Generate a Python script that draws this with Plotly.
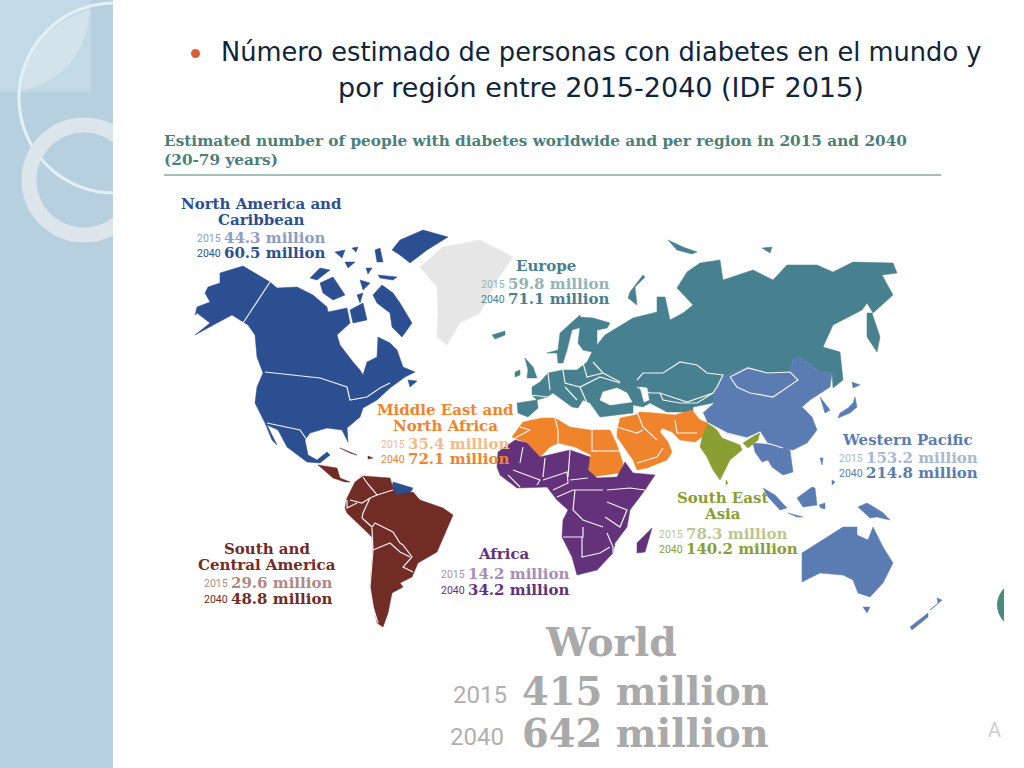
import plotly.graph_objects as go

# ---------- values ----------
REGION_NAMES = ["North America and<br>Caribbean", "Europe", "Middle East and<br>North Africa",
                "Western Pacific", "South East<br>Asia", "Africa", "South and<br>Central America"]
VALUES_2015 = [44.3, 59.8, 35.4, 153.2, 78.3, 14.2, 29.6]
VALUES_2040 = [60.5, 71.1, 72.1, 214.8, 140.2, 34.2, 48.8]
WORLD_2015 = 415
WORLD_2040 = 642

# ---------- colours ----------
COL_DARK = ["#2c4f92", "#47808f", "#f0842c", "#5b7cb2", "#8a9e32", "#64327a", "#722c26"]
COL_LIGHT = ["#8f9cc4", "#93b3ba", "#f6b98a", "#a9b8d3", "#bcc68f", "#a68eb5", "#ae8a85"]

# ---------- map outlines (x, y in picture pixels) ----------
NORTH_AMERICA = [
    [(195,315),(197,307),(210,302),(205,293),(208,287),(220,283),(220,273),(243,266),(270,282),(277,288),
     (297,287),(313,295),(327,307),(328,312),(347,308),(350,323),(337,335),(340,345),(353,362),(360,370),
     (363,375),(367,362),(377,357),(378,337),(390,343),(397,350),(403,367),(415,372),(405,377),(390,388),
     (377,400),(363,408),(360,417),(347,428),(348,442),(342,430),(327,428),(310,433),(305,440),(308,455),
     (317,460),(327,452),(330,455),(320,463),(307,462),(287,447),(278,430),(267,425),(277,445),(272,440),
     (265,423),(255,403),(257,387),(263,373),(257,357),(255,335),(248,325),(232,315),(217,323),(195,335),
     (210,323),(197,313)],
    [(373,295),(382,285),(393,293),(400,303),(412,323),(402,337),(392,327),(390,313),(377,303)],
    [(320,283),(333,277),(345,295),(333,300),(323,293)],
    [(310,278),(320,268),(330,270),(317,280)],
    [(392,250),(400,240),(423,230),(448,237),(427,250),(410,263),(400,255)],
    [(378,275),(397,277),(393,280),(380,278)],
    [(350,310),(363,303),(367,320),(353,323)],
    [(360,280),(370,283),(363,290)],
    [(357,295),(363,293),(360,303)],
    [(335,252),(345,250),(342,258)],
    [(345,262),(355,262),(348,268)],
    [(375,250),(380,248),(383,262),(377,262)],
    [(352,248),(358,247),(356,252)],
    [(366,268),(372,268),(368,274)],
    [(408,380),(417,381),(410,387)],
    [(393,482),(413,488),(410,493),(397,496),(392,488)],
]
GREENLAND = [[(420,267),(443,247),(480,240),(513,257),(497,280),(480,313),(460,323),(447,345),(437,337),(438,313),(437,287)]]
EUROPE = [
    [(532,387),(540,382),(548,373),(563,370),(577,370),(587,362),(592,352),(583,350),(578,343),(580,327),
     (580,317),(593,318),(610,323),(607,328),(597,330),(597,345),(605,335),(617,328),(633,318),(657,312),
     (657,297),(665,297),(670,320),(683,313),(693,305),(677,288),(687,272),(700,263),(720,260),(723,280),
     (753,270),(773,280),(787,265),(817,265),(833,272),(853,262),(893,263),(897,273),(882,275),(893,295),
     (873,313),(867,303),(862,310),(833,325),(823,347),(840,352),(843,380),(833,388),(832,373),(820,372),
     (800,357),(793,360),(790,372),(767,373),(748,367),(723,377),(713,393),(713,403),(693,407),(693,412),
     (667,412),(650,403),(643,407),(633,405),(633,413),(600,417),(595,410),(590,403),(583,400),(578,408),
     (572,407),(553,393),(547,397),(537,400),(532,395)],
    [(517,403),(537,400),(538,408),(528,417),(518,413)],
    [(547,353),(558,350),(560,333),(572,322),(580,315),(582,327),(572,330),(567,350),(563,363),(558,363),(557,353)],
    [(525,358),(533,367),(537,378),(527,378),(528,370)],
    [(515,372),(520,370),(520,375),(515,377)],
    [(492,335),(505,331),(505,335),(495,339)],
    [(867,313),(872,313),(880,337),(877,352),(867,337)],
    [(630,292),(643,275),(645,277),(635,287),(637,305),(628,298)],
    [(668,240),(683,247),(697,252),(692,254),(677,250)],
    [(762,248),(772,247),(770,253)],
]
WHITE_SEAS = [
    [(600,400),(603,392),(617,388),(627,393),(632,402),(610,405)],
    [(640,387),(647,388),(649,400),(644,402)],
]
MENA = [
    [(512,437),(523,422),(542,418),(555,418),(570,427),(590,430),(610,430),(617,445),(623,463),(620,473),
     (605,475),(590,477),(588,468),(591,455),(575,447),(558,443),(550,447),(540,457),(527,443)],
    [(617,432),(620,418),(635,415),(640,412),(655,413),(675,415),(692,410),(700,420),(708,423),(705,435),
     (695,442),(680,440),(672,432),(662,428),(660,432),(668,442),(672,452),(667,460),(647,468),(637,470),
     (633,460),(617,437)],
]
AFRICA = [
    [(497,467),(498,452),(515,440),(527,443),(540,457),(557,453),(570,450),(590,457),(588,470),(597,478),
     (617,477),(625,462),(633,473),(655,475),(645,490),(630,510),(627,527),(615,543),(613,553),(597,570),
     (577,575),(572,557),(562,537),(563,520),(568,510),(557,500),(547,487),(517,488),(500,475)],
    [(652,528),(645,552),(637,553),(637,543)],
]
SOUTH_AMERICA = [
    [(345,508),(347,498),(355,482),(363,476),(390,478),(393,488),(397,495),(413,492),(420,500),(443,508),
     (453,515),(445,533),(437,552),(418,563),(412,577),(400,583),(403,587),(392,593),(388,613),(383,627),
     (377,623),(370,587),(373,550),(372,537),(347,513)],
    [(318,465),(337,468),(340,478),(350,482),(345,482),(333,478)],
    [(340,448),(357,455),(350,453)],
    [(368,456),(373,458),(368,459)],
]
WESTERN_PACIFIC = [
    [(703,412),(713,403),(713,393),(723,377),(748,367),(767,373),(790,372),(793,360),(800,357),(820,372),
     (832,373),(830,387),(810,400),(802,407),(812,417),(817,430),(807,443),(793,450),(783,448),(767,443),
     (760,432),(747,438),(727,433),(708,423)],
    [(753,443),(775,445),(790,450),(793,472),(783,475),(772,467),(768,460),(762,462),(755,452)],
    [(820,397),(830,410),(825,413)],
    [(855,397),(857,407),(850,413),(838,418),(840,413),(848,408),(853,403)],
    [(852,382),(860,385),(853,388)],
    [(820,458),(823,458),(822,465)],
    [(832,480),(835,482),(832,485)],
    [(763,488),(775,495),(787,508),(780,510),(768,497)],
    [(788,513),(803,517),(797,517)],
    [(797,498),(812,487),(815,488),(817,505),(803,507)],
    [(819,505),(825,503),(825,509),(821,508)],
    [(858,507),(867,503),(882,512),(890,520),(877,517),(870,518)],
    [(802,553),(827,537),(843,527),(857,527),(857,535),(868,540),(873,527),(883,547),(893,563),(883,583),
     (870,597),(858,593),(853,580),(843,575),(820,573),(802,582)],
    [(863,607),(870,607),(867,613)],
    [(933,608),(942,600),(937,598),(938,603),(930,610)],
    [(910,627),(928,613),(928,617),(912,630)],
]
SOUTH_EAST_ASIA = [
    [(708,423),(717,430),(722,438),(740,445),(742,450),(730,460),(720,480),(713,470),(707,457),(700,447),(702,438)],
    [(743,443),(760,432),(758,440),(748,448)],
    [(726,480),(728,483),(726,485)],
]
BORDERS = [
    [(270,282),(243,323)],
    [(265,372),(320,378),(347,387),(350,400),(367,397),(380,388),(390,383)],
    [(267,423),(287,427),(300,430),(307,440)],
    [(520,463),(523,447)], [(545,458),(543,477)], [(570,450),(568,477)],
    [(543,480),(567,472),(568,483),(553,490)], [(570,480),(588,478)],
    [(557,497),(573,490),(603,490)], [(575,490),(573,510),(583,520),(603,527)],
    [(607,502),(627,510),(620,527),(605,517)], [(607,490),(630,488),(645,490)],
    [(563,537),(583,537),(583,527)], [(582,537),(582,557),(600,553),(610,547)],
    [(607,533),(613,547),(613,553)], [(513,470),(527,475),(540,480),(537,485)], [(508,475),(520,487)],
    [(520,427),(530,430),(515,438)], [(555,418),(558,430),(558,443)], [(592,430),(592,452)], [(592,451),(620,451)],
    [(617,427),(637,433),(643,430)], [(637,412),(643,427),(657,440)], [(675,420),(677,433),(697,433)],
    [(637,463),(657,457),(663,448)],
    [(548,373),(550,390)], [(563,370),(565,383),(580,387),(600,377),(620,383)],
    [(583,363),(587,377),(603,373)], [(565,387),(577,400)], [(580,387),(587,403)],
    [(593,362),(603,373),(620,382)], [(530,395),(548,397)],
    [(637,380),(643,373),(663,373),(680,362),(697,365),(707,373),(723,375),(717,387),(713,393),(687,402),(660,393),(650,393),(637,387)],
    [(660,393),(663,400),(680,403),(697,403),(713,393)],
    [(730,377),(748,368),(767,373),(790,372),(798,380),(773,397),(750,393),(737,387),(730,377)],
    [(703,412),(713,403)], [(708,423),(727,433),(747,438),(760,432),(767,443),(783,448)],
    [(363,477),(367,483),(373,490),(377,495),(370,498),(362,503),(350,500)], [(377,495),(393,490)],
    [(370,498),(363,513),(362,518),(372,527),(375,523),(393,532),(400,543),(403,545),(412,557),(403,567),(413,572)],
    [(372,528),(373,550),(370,587),(373,607),(378,623)], [(373,550),(390,543),(400,552),(410,557)],
    [(347,500),(347,508),(357,503)],
]

# ---------- text placement in picture pixels ----------
NAME_X = [261, 546, 445, 907, 722, 504, 267]
NAME_Y = [204, 266, 410, 440, 498, 554, 549]
NAME_LINE_GAP = 15.5
ROW_X = [224, 508, 408, 866, 686, 468, 231]
ROW_Y_2015 = [238, 284, 444, 458, 534, 574, 583]
ROW_Y_2040 = [253, 299, 459, 473, 549, 590, 599]
SERIF = "DejaVu Serif"
THIN = "Roboto"


def flat(polys):
    xs, ys = [], []
    for poly in polys:
        xs += [p[0] for p in poly] + [poly[0][0], None]
        ys += [p[1] for p in poly] + [poly[0][1], None]
    return xs, ys


def flat_open(lines):
    xs, ys = [], []
    for line in lines:
        xs += [p[0] for p in line] + [None]
        ys += [p[1] for p in line] + [None]
    return xs, ys


fig = go.Figure()
layers = [("North America", NORTH_AMERICA, COL_DARK[0]), ("Greenland", GREENLAND, "#e6e6e6"),
          ("Europe", EUROPE, COL_DARK[1]), ("Seas", WHITE_SEAS, "#ffffff"), ("MENA", MENA, COL_DARK[2]),
          ("Africa", AFRICA, COL_DARK[5]), ("South America", SOUTH_AMERICA, COL_DARK[6]),
          ("Western Pacific", WESTERN_PACIFIC, COL_DARK[3]), ("South East Asia", SOUTH_EAST_ASIA, COL_DARK[4])]
for name, polys, col in layers:
    xs, ys = flat(polys)
    fig.add_trace(go.Scatter(x=xs, y=ys, mode="lines", fill="toself", fillcolor=col,
                             line=dict(color=col, width=0.5), name=name, hoverinfo="skip"))
bx, by = flat_open(BORDERS)
fig.add_trace(go.Scatter(x=bx, y=by, mode="lines", line=dict(color="#f4f1f4", width=1.2),
                         name="Borders", hoverinfo="skip"))

ann = []


def txt(x, y, s, size, col, fam=SERIF, anchor="center"):
    shift = {"left": -2, "right": 2, "center": 0}[anchor]
    ann.append(dict(x=x, y=y, xref="x", yref="y", text=s, showarrow=False, xanchor=anchor, yanchor="middle",
                    xshift=shift, font=dict(size=size, color=col, family=fam), align="center"))


txt(221, 52, "Número estimado de personas con diabetes en el mundo y", 25.7, "#10243a", "DejaVu Sans", "left")
txt(601, 87, "por región entre 2015-2040 (IDF 2015)", 27, "#10243a", "DejaVu Sans")
txt(164, 141, "<b>Estimated number of people with diabetes worldwide and per region in 2015 and 2040</b>",
    15.3, "#4c7f7a", SERIF, "left")
txt(164, 160, "<b>(20-79 years)</b>", 15.3, "#4c7f7a", SERIF, "left")

for i, nm in enumerate(REGION_NAMES):
    for j, part in enumerate(nm.split("<br>")):
        txt(NAME_X[i], NAME_Y[i] + j * NAME_LINE_GAP, "<b>%s</b>" % part, 15, COL_DARK[i])
    txt(ROW_X[i] - 3, ROW_Y_2015[i], "2015", 10.5, COL_LIGHT[i], THIN, "right")
    txt(ROW_X[i] - 3, ROW_Y_2040[i], "2040", 10.5, COL_DARK[i], THIN, "right")
    txt(ROW_X[i], ROW_Y_2015[i], "<b>%.1f million</b>" % VALUES_2015[i], 15, COL_LIGHT[i], SERIF, "left")
    txt(ROW_X[i], ROW_Y_2040[i], "<b>%.1f million</b>" % VALUES_2040[i], 15, COL_DARK[i], SERIF, "left")

txt(611, 642, "<b>World</b>", 39.5, "#a9a9a9")
txt(522, 691, "<b>%d million</b>" % WORLD_2015, 38.5, "#a9a9a9", SERIF, "left")
txt(522, 733, "<b>%d million</b>" % WORLD_2040, 38.5, "#a9a9a9", SERIF, "left")
txt(507, 695, "2015", 24, "#b0b0b0", THIN, "right")
txt(504, 737, "2040", 24, "#b0b0b0", THIN, "right")
txt(994, 730, "A", 20, "#cfcfcf", THIN)

shapes = [
    dict(type="rect", x0=0, x1=113, y0=0, y1=768, fillcolor="#b7d0e0", line_width=0, layer="below"),
    dict(type="rect", x0=0, x1=91, y0=0, y1=92, fillcolor="#c3dae6", line_width=0, layer="below"),
    dict(type="path", path="M 90 9 Q 85 75 23 90 Q 18 35 90 9 Z", fillcolor="#d2e3eb", line_width=0, layer="below"),
    dict(type="circle", x0=19, x1=209, y0=3, y1=193, line=dict(color="#e3f0f6", width=3),
         fillcolor="rgba(0,0,0,0)", layer="below"),
    dict(type="circle", x0=29, x1=139, y0=125, y1=235, line=dict(color="#dce5eb", width=15),
         fillcolor="rgba(0,0,0,0)", layer="below"),
    dict(type="circle", x0=997, x1=1043, y0=582, y1=628, fillcolor="#4e8a7c", line_width=0, layer="below"),
    dict(type="rect", x0=113, x1=260, y0=0, y1=768, fillcolor="#ffffff", line_width=0, layer="below"),
    dict(type="rect", x0=1004, x1=1024, y0=560, y1=650, fillcolor="#ffffff", line_width=0, layer="below"),
    dict(type="line", x0=164, x1=941, y0=175, y1=175, line=dict(color="#86a8a2", width=1.5), layer="below"),
    dict(type="circle", x0=191, x1=200, y0=49, y1=58, fillcolor="#d9603b", line_width=0, layer="above"),
]

fig.update_layout(
    width=1024, height=768, margin=dict(l=0, r=0, t=0, b=0), showlegend=False,
    paper_bgcolor="#ffffff", plot_bgcolor="#ffffff",
    xaxis=dict(range=[0, 1024], visible=False, fixedrange=True),
    yaxis=dict(range=[768, 0], visible=False, fixedrange=True),
    annotations=ann, shapes=shapes,
)
fig.write_html("out.html", post_script="document.body.style.margin='0';", config={"displayModeBar": False})
